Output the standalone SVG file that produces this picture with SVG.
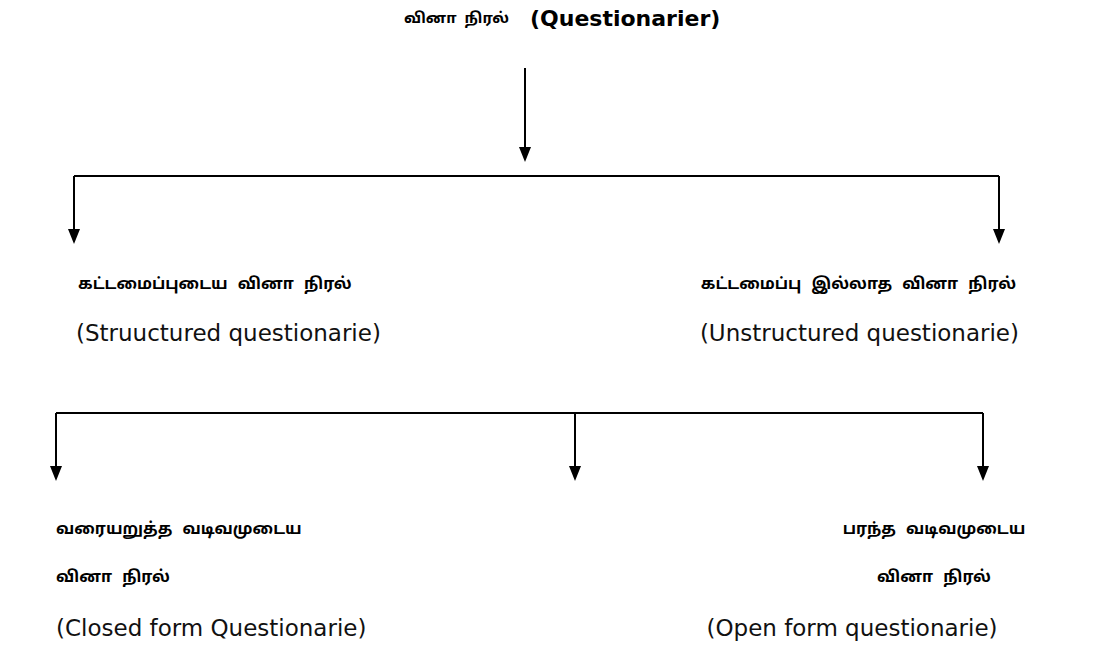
<svg xmlns="http://www.w3.org/2000/svg" width="1107" height="653" viewBox="0 0 1107 653">
<style>
.ta{font-family:"Noto Sans Tamil","Lohit Tamil","Latha","Noto Sans","DejaVu Sans",sans-serif;font-weight:bold;font-size:16px;word-spacing:6px;fill:#000}
.tt{font-family:"Noto Sans Tamil","Lohit Tamil","Latha","Noto Sans","DejaVu Sans",sans-serif;font-weight:bold;font-size:15px;word-spacing:4px;fill:#000}
.en{font-family:"DejaVu Sans","Open Sans",sans-serif;font-size:23px;fill:#111}
.enb{font-family:"DejaVu Sans","Open Sans",sans-serif;font-size:22px;font-weight:bold;fill:#000}
.ln{stroke:#000;stroke-width:2;fill:none}
.ah{fill:#000}
</style>
<rect width="1107" height="653" fill="#fff"/>
<g id="connectors">
<path class="ln" d="M525,68 V148"/>
<path class="ah" d="M519,147 L531,147 L525,162 Z"/>
<path class="ln" d="M74,176 H999"/>
<path class="ln" d="M74,176 V230"/>
<path class="ah" d="M68,229 L80,229 L74,244 Z"/>
<path class="ln" d="M999,176 V230"/>
<path class="ah" d="M993,229 L1005,229 L999,244 Z"/>
<path class="ln" d="M56,413 H983"/>
<path class="ln" d="M56,413 V467"/>
<path class="ah" d="M50,466 L62,466 L56,481 Z"/>
<path class="ln" d="M575,413 V467"/>
<path class="ah" d="M569,466 L581,466 L575,481 Z"/>
<path class="ln" d="M983,413 V467"/>
<path class="ah" d="M977,466 L989,466 L983,481 Z"/>
</g>
<g id="root">
<text class="tt" x="404" y="23">வினா நிரல்</text>
<text class="enb" x="530" y="26">(Questionarier)</text>
</g>
<g id="structured">
<text class="ta" x="78" y="289">கட்டமைப்புடைய வினா நிரல்</text>
<text class="en" x="76" y="341">(Struuctured questionarie)</text>
</g>
<g id="unstructured">
<text class="ta" x="1016" y="289" text-anchor="end">கட்டமைப்பு இல்லாத வினா நிரல்</text>
<text class="en" x="1019" y="341" text-anchor="end">(Unstructured questionarie)</text>
</g>
<g id="closed">
<text class="ta" x="56" y="534">வரையறுத்த வடிவமுடைய</text>
<text class="ta" x="56" y="582">வினா நிரல்</text>
<text class="en" x="56" y="636">(Closed form Questionarie)</text>
</g>
<g id="open">
<text class="ta" x="934" y="534" text-anchor="middle">பரந்த வடிவமுடைய</text>
<text class="ta" x="934" y="582" text-anchor="middle">வினா நிரல்</text>
<text class="en" x="852" y="636" text-anchor="middle">(Open form questionarie)</text>
</g>
</svg>
